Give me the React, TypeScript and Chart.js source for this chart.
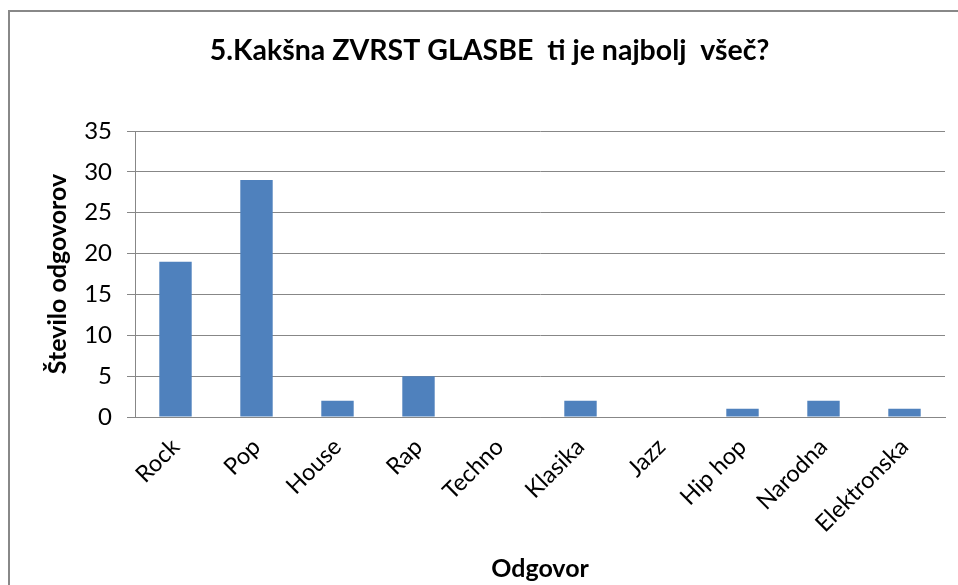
import React, { useEffect, useRef } from "react";
import { Chart, registerables } from "chart.js";

Chart.register(...registerables);

const categories = ["Rock", "Pop", "House", "Rap", "Techno", "Klasika", "Jazz", "Hip hop", "Narodna", "Elektronska"];
const values = [19, 29, 2, 5, 0, 2, 0, 1, 2, 1];
const yMin = 0;
const yMax = 35;
const yStep = 5;
const titleText = "5.Kakšna ZVRST GLASBE  ti je najbolj  všeč?";
const yTitle = "Število odgovorov";
const xTitle = "Odgovor";

const FONT = "Lato, 'Open Sans', 'DejaVu Sans', sans-serif";

const shiftTitle = {
  id: "shiftTitle",
  afterLayout(chart: any) {
    const t = chart.titleBlock;
    if (t) {
      t.left += 34;
    }
  },
};

export default function App() {
  const ref = useRef<HTMLCanvasElement>(null);

  useEffect(() => {
    if (!ref.current) return;
    const chart = new Chart(ref.current, {
      type: "bar",
      data: {
        labels: categories,
        datasets: [
          {
            data: values,
            backgroundColor: "#4F81BD",
            barPercentage: 0.4,
            categoryPercentage: 1,
          },
        ],
      },
      plugins: [shiftTitle],
      options: {
        responsive: false,
        animation: false,
        layout: { padding: { left: 0, top: 0, right: 13, bottom: 0 } },
        plugins: {
          legend: { display: false },
          tooltip: { enabled: false },
          title: {
            display: true,
            text: titleText,
            color: "#000",
            font: { family: FONT, size: 28.5, weight: "bold" },
            padding: { top: 33.9, bottom: 62.9 },
          },
        },
        scales: {
          x: {
            grid: { display: false },
            border: { color: "#878787", width: 1 },
            ticks: {
              maxRotation: 45,
              minRotation: 45,
              color: "#000",
              font: { family: FONT, size: 23.5 },
              padding: 8,
            },
            title: {
              display: true,
              text: xTitle,
              color: "#000",
              font: { family: FONT, size: 25, weight: "bold" },
              padding: { top: 0, bottom: 1 },
            },
            afterFit: (s: any) => {
              s.height = 168;
            },
          },
          y: {
            min: yMin,
            max: yMax,
            ticks: {
              stepSize: yStep,
              color: "#000",
              font: { family: FONT, size: 24 },
              padding: 15,
            },
            grid: { color: "#878787", tickLength: 8 },
            border: { color: "#878787", width: 1 },
            title: {
              display: true,
              text: yTitle,
              color: "#000",
              font: { family: FONT, size: 25, weight: "bold" },
              padding: { top: 43, bottom: 0 },
            },
            afterFit: (s: any) => {
              s.width = 135;
            },
          },
        },
      },
    });
    return () => chart.destroy();
  }, []);

  return (
    <div style={{ position: "fixed", left: 0, top: 0, width: 958, height: 585, background: "#fff", overflow: "hidden" }}>
      <div
        style={{
          position: "absolute",
          left: 8,
          top: 10,
          width: 960,
          height: 600,
          borderLeft: "2px solid #888",
          borderTop: "2px solid #888",
          boxSizing: "border-box",
        }}
      />
      <canvas ref={ref} width={958} height={585} style={{ position: "absolute", left: 0, top: 0 }} />
    </div>
  );
}
